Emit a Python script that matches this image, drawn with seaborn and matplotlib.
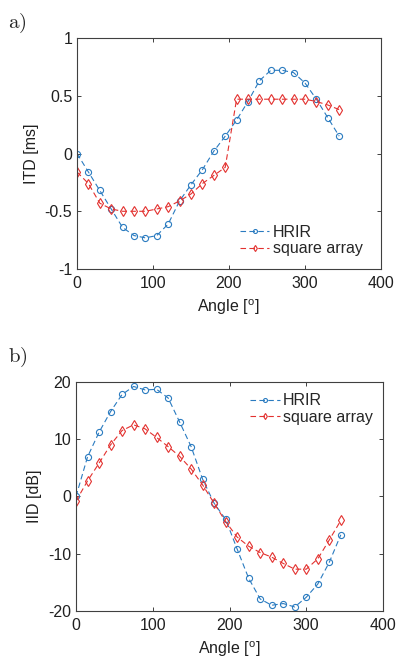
import matplotlib
matplotlib.use("Agg")
import numpy as np
import pandas as pd
import matplotlib.pyplot as plt
import seaborn as sns
from matplotlib.ticker import FormatStrFormatter

# azimuth angles (deg)
angles = [0, 15, 30, 45, 60, 75, 90, 105, 120, 135, 150, 165,
          180, 195, 210, 225, 240, 255, 270, 285, 300, 315, 330, 345]

# a) interaural time difference [ms]
itd_hrir = [0.00, -0.16, -0.32, -0.48, -0.64, -0.71, -0.73, -0.71, -0.61, -0.41, -0.27, -0.14,
            0.02, 0.15, 0.29, 0.45, 0.63, 0.72, 0.72, 0.70, 0.61, 0.47, 0.31, 0.15]
itd_square = [-0.16, -0.26, -0.43, -0.48, -0.50, -0.50, -0.50, -0.48, -0.46, -0.41, -0.35, -0.26,
              -0.19, -0.12, 0.47, 0.47, 0.47, 0.47, 0.47, 0.47, 0.47, 0.45, 0.42, 0.38]

# b) interaural intensity difference [dB]
iid_hrir = [0.0, 6.9, 11.2, 14.8, 17.8, 19.2, 18.6, 18.7, 17.2, 13.0, 8.7, 3.0,
            -1.2, -4.0, -9.2, -14.3, -17.9, -19.0, -18.7, -19.3, -17.6, -15.3, -11.5, -6.7]
iid_square = [-0.8, 2.7, 5.8, 9.0, 11.5, 12.5, 11.8, 10.3, 8.7, 7.0, 4.8, 2.0,
              -1.2, -4.4, -7.1, -8.7, -9.8, -10.6, -11.7, -12.7, -12.7, -10.9, -7.6, -4.2]

series_names = ["HRIR", "square array"]

sns.set_theme(style="ticks")
plt.rcParams["font.family"] = ["Liberation Sans", "DejaVu Sans"]
plt.rcParams["mathtext.fontset"] = "cm"
plt.rcParams["axes.unicode_minus"] = False

BLUE = "#2a7bc0"
RED = "#e3312f"
AXC = "#404040"
FS = 11.5

fig = plt.figure(figsize=(4, 6.66), dpi=100)
ax_a = fig.add_axes([0.1925, 0.596, 0.76, 0.347])
ax_b = fig.add_axes([0.19, 0.0826, 0.7675, 0.344])


def draw(ax, hrir, square, ylabel, yticks, ylim, legend_anchor):
    df = pd.DataFrame({"angle": angles, "HRIR": hrir, "square array": square})
    for name, col, mk, ms in [(series_names[0], BLUE, "o", 4.4),
                              (series_names[1], RED, "d", 4.8)]:
        sns.lineplot(data=df, x="angle", y=name, ax=ax, color=col, label=name,
                     linestyle=(0, (5, 3)), linewidth=0.8, marker=mk, markersize=ms,
                     markerfacecolor="none", markeredgecolor=col, markeredgewidth=0.8)
    ax.set_xlim(0, 400)
    ax.set_ylim(*ylim)
    ax.set_xticks([0, 100, 200, 300, 400])
    ax.set_yticks(yticks)
    ax.yaxis.set_major_formatter(FormatStrFormatter("%g"))
    ax.set_xlabel(r"Angle [$^\mathregular{o}$]", fontsize=FS, color="#202020", labelpad=5)
    ax.set_ylabel(ylabel, fontsize=FS, color="#202020", labelpad=4)
    ax.tick_params(direction="in", top=True, right=True, length=3, width=0.7,
                   labelsize=FS, colors=AXC, labelcolor="#202020")
    ax.tick_params(axis="x", pad=5)
    ax.tick_params(axis="y", pad=3.5)
    for s in ax.spines.values():
        s.set_color(AXC)
        s.set_linewidth(0.8)
        s.set_visible(True)
    ax.legend(loc="center left", bbox_to_anchor=legend_anchor, frameon=False,
              fontsize=FS, handlelength=1.85, handletextpad=0.2, markerscale=0.65,
              labelspacing=0.1, borderpad=0, borderaxespad=0)


draw(ax_a, itd_hrir, itd_square, "ITD [ms]", [-1, -0.5, 0, 0.5, 1], (-1, 1),
     (0.536, 0.123))
draw(ax_b, iid_hrir, iid_square, "IID [dB]", [-20, -10, 0, 10, 20], (-20, 20),
     (0.567, 0.882))

fig.text(0.02, 0.965, r"$\mathrm{a)}$", fontsize=15, va="center", ha="left")
fig.text(0.02, 0.464, r"$\mathrm{b)}$", fontsize=15, va="center", ha="left")

fig.savefig("out.png", dpi=100)
